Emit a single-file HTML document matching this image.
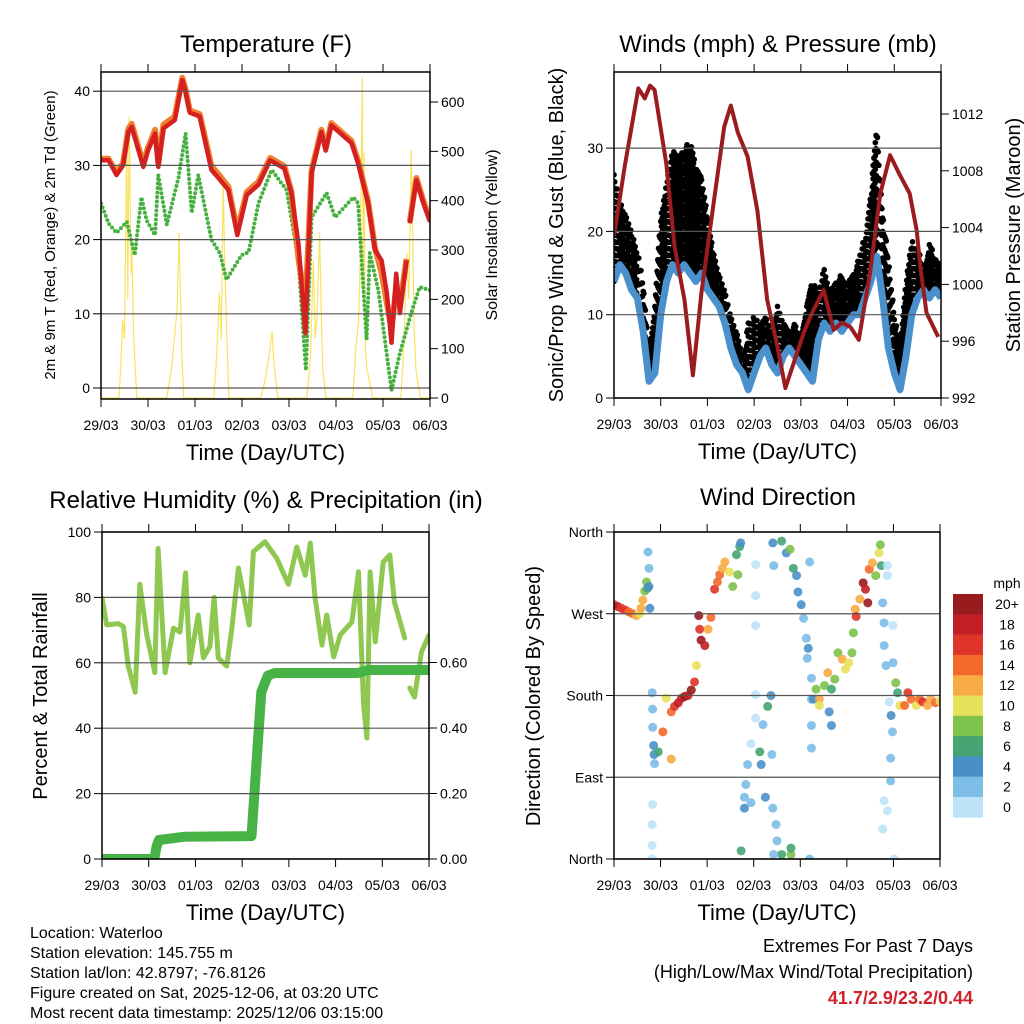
<!DOCTYPE html>
<html><head><meta charset="utf-8"><style>
html,body{margin:0;padding:0;background:#fff}
svg{display:block;font-family:"Liberation Sans",Arial,sans-serif}
</style></head><body>
<svg id="chart" xmlns="http://www.w3.org/2000/svg" width="1024" height="1024" viewBox="0 0 1024 1024">
<rect x="0" y="0" width="1024" height="1024" fill="#fff"/>
</svg>
<script>
// ---------- DATA ----------
const dayLabels = ["29/03","30/03","01/03","02/03","03/03","04/03","05/03","06/03"];
// Temperature (F) red 2m
const tempT = [0,0.16,0.33,0.47,0.58,0.65,0.9,1.0,1.15,1.22,1.33,1.57,1.73,1.79,1.89,2.1,2.35,2.5,2.71,2.9,3.1,3.35,3.6,3.9,4.05,4.2,4.35,4.48,4.69,4.78,4.9,5.33,5.47,5.68,5.83,5.97,6.08,6.18,6.28,6.36,6.5,6.52,6.57,6.71,6.86,7.0];
const tempV = [30.7,30.7,28.7,30,34.5,35.2,29.8,32,34.3,29.8,35,36.1,41.5,40.2,37.1,36.6,29.4,28.3,26.7,20.6,26,27.4,30.7,29.6,26.3,19.5,7.4,29,34.5,32,35.4,33,30.3,24.9,18.6,17.2,12.8,6.1,15.4,10.1,17.2,null,22.2,28,24.9,22.4];
// 9m temperature (orange)
const temp9V = [30.9,30.9,29,30.3,34.9,35.6,30.2,32.4,34.8,30.2,35.5,36.6,41.8,40.5,37.4,36.9,29.9,28.8,27.1,21.2,26.4,27.8,31,29.9,26.5,17.5,11,29.3,34.8,32.3,35.7,33.3,30.6,25.2,18.9,15.5,11.5,8,13.5,11,17.4,null,22.4,28.3,25.2,22.7];
// Dewpoint (green)
const dewT = [0,0.16,0.33,0.55,0.72,0.86,0.97,1.15,1.22,1.4,1.65,1.8,1.93,2.07,2.35,2.53,2.67,2.99,3.14,3.35,3.63,3.95,4.2,4.36,4.48,4.8,4.98,5.37,5.47,5.65,5.72,5.9,6.18,6.36,6.6,6.78,7.0];
const dewV = [24.9,22.2,20.9,22.4,17.9,25.7,22.6,20.6,28.7,22,28.4,34.3,23.6,28.7,20,18.2,14.6,17.9,18.3,24.9,29.4,26.7,17.2,2.4,23,26.3,23,25.7,24.9,6.5,18.2,13.2,-0.3,4.7,10.1,13.6,13.2];
// Solar insolation (W/m2)
const solarT = [0,0.38,0.42,0.46,0.5,0.53,0.55,0.57,0.6,0.62,0.64,0.66,0.69,0.72,0.76,1.4,1.5,1.56,1.62,1.66,1.69,1.72,1.76,2.4,2.47,2.52,2.56,2.6,2.63,2.67,2.72,3.4,3.5,3.58,3.64,3.68,3.76,4.38,4.46,4.52,4.56,4.6,4.65,4.69,4.72,4.78,5.36,5.42,5.48,5.52,5.56,5.58,5.6,5.62,5.65,5.7,5.78,6.38,6.45,6.5,6.55,6.6,6.63,6.66,6.7,6.74,6.8,7.0];
const solarV = [0,0,60,158,120,380,530,200,570,420,253,300,145,80,0,0,60,120,180,335,213,90,0,0,100,213,120,448,280,150,0,0,40,90,134,70,0,0,90,280,120,170,335,160,60,0,0,100,157,300,650,200,497,120,61,40,0,0,120,294,200,503,350,150,60,30,0,0];
// Winds (mph), 3-hourly from 29/03 00 UTC
const windStep = 0.125;
const windV = [14,16,15,13,12,8,2,3,10,14,16,15,16,15,14,15,13,12,11,9,6,4,3,1,3,5,6,4,3,5,6,5,4,3,2,7,9,8,9,8,9,10,10,12,14,17,12,6,3,1,5,10,12,13,12,13,12];
const gustV = [27,24,22,20,18,14,6,12,22,26,30,29,30,31,28,27,22,18,15,13,10,8,5,9,10,9,10,8,11,9,8,9,7,12,14,13,16,13,14,15,14,15,17,20,25,33,22,17,10,7,14,19,18,16,19,17,16];
// Station pressure (mb)
const presT = [0,0.23,0.52,0.66,0.77,0.87,1.12,1.3,1.51,1.69,1.87,2.11,2.36,2.5,2.65,2.86,3.07,3.28,3.5,3.67,4.06,4.24,4.49,4.7,4.88,5.06,5.24,5.48,5.7,5.91,6.12,6.33,6.48,6.56,6.69,6.94];
const presV = [1003.4,1008.3,1013.8,1013.1,1014,1013.7,1008.5,1002.6,998.9,993.6,999.4,1005.2,1011.1,1012.6,1010.7,1009,1005.2,998.9,995.6,992.7,996.6,998,999.6,996.8,997.3,997,996.1,1000.8,1006.4,1009.1,1007.7,1006.4,1003.8,1001.2,998,996.3];
// Relative humidity (%)
const rhT = [0,0.1,0.35,0.46,0.56,0.71,0.81,0.96,1.13,1.2,1.35,1.53,1.67,1.79,1.88,2.06,2.17,2.31,2.4,2.49,2.67,2.78,2.92,3.15,3.24,3.49,3.74,3.99,4.17,4.35,4.46,4.56,4.71,4.81,4.96,5.1,5.35,5.49,5.6,5.67,5.74,5.85,6.02,6.16,6.26,6.48,6.53,6.59,6.69,6.84,7.0];
const rhV = [79.8,71.6,72,71,59,51,84,68.5,57,95,57,70.6,69.4,87.5,60,74.6,61.5,65,80,61.5,59,70.6,89,71.6,94,97,92,84,95.4,86.8,96.6,80,65.4,74.6,61.8,68.5,72.5,87.8,47,37,87.8,66.4,90.8,93,78.6,67.6,null,52.3,49.5,63.3,68.5];
// Total precipitation (in)
const rainT = [0,1.12,1.17,1.22,1.77,3.2,3.41,3.55,3.7,5.48,5.7,7.0];
const rainV = [0,0,0.04,0.058,0.068,0.07,0.51,0.56,0.568,0.568,0.577,0.577];
// Wind direction scatter
const dirT = [0,0.08,0.16,0.24,0.32,0.4,0.48,0.55,0.58,0.62,0.66,0.7,0.72,0.75,0.77,0.73,0.75,
0.82,0.83,0.83,0.85,0.86,0.87,0.83,0.82,0.82,0.82,
0.95,1.05,1.12,1.23,1.23,1.3,1.38,1.45,1.52,1.59,1.66,1.73,1.77,1.84,1.87,1.95,1.82,2.02,2.08,2.16,2.22,2.27,2.33,2.38,2.48,2.55,2.63,2.7,2.66,2.72,
2.73,2.8,2.83,2.87,2.8,2.94,2.94,3.04,3.04,3.04,3.04,3.04,3.13,3.16,3.2,3.25,3.3,3.37,3.39,3.41,3.48,3.5,3.6,3.8,3.8,3.43,
3.41,3.43,3.6,3.7,3.78,3.85,3.92,3.95,4.02,4.07,4.13,4.17,4.15,4.2,4.24,4.24,4.24,4.24,4.2,
4.28,4.34,4.41,4.41,4.52,4.59,4.62,4.67,4.67,4.74,4.81,4.9,4.97,5.04,5.11,5.14,5.18,5.2,5.28,5.35,5.4,5.45,5.48,5.55,5.62,5.69,5.72,5.74,
5.77,5.8,5.8,5.84,5.87,5.87,5.91,5.94,5.94,5.8,5.87,5.77,5.99,5.99,6.02,5.95,5.98,
6.05,6.09,6.14,6.24,6.31,6.38,6.49,6.56,6.63,6.73,6.8,6.9,7.0];
const dirV = [280,278,276,274,272,270,268,270,276,285,295,305,298,300,276,338,320,
183,165,145,125,115,105,60,38,15,0,
118,140,177,162,110,168,172,177,179,180,186,195,213,253,241,235,268,253,266,297,305,313,320,327,316,300,335,344,313,348,
9,68,82,104,56,62,127,155,324,290,257,181,118,104,148,68,168,180,115,56,38,20,5,5,12,5,
348,323,350,337,341,320,312,294,280,265,243,232,221,327,199,176,147,122,0,
176,187,176,169,191,205,162,147,187,198,227,220,209,216,227,249,275,267,286,304,297,282,319,326,312,337,346,323,
282,260,235,213,323,312,173,111,86,64,53,33,257,216,0,158,140,
194,183,169,169,183,176,169,176,173,169,176,172,174];
const dirS = [16,18,16,16,14,14,12,10,12,12,8,8,6,4,4,2,2,
2,2,2,4,4,2,0,0,0,0,
6,14,10,14,12,16,18,18,20,18,20,16,10,16,20,18,20,12,14,16,14,14,12,12,10,8,6,6,8,4,
6,2,2,2,4,2,0,0,0,0,0,0,6,4,2,4,6,4,2,2,2,2,6,8,6,2,
4,2,6,4,8,6,4,4,4,2,2,4,2,2,2,2,2,2,2,
4,8,12,10,8,12,4,4,6,8,8,12,10,10,8,8,12,16,12,20,18,20,14,12,8,10,8,6,
2,2,2,2,0,0,0,2,2,0,0,0,0,2,0,4,2,
8,6,10,14,16,14,10,14,16,12,12,14,10];
const speedLabels = ["0","2","4","6","8","10","12","14","16","18","20+"];
const speedColors = ["#bde3f7","#7dbde8","#4a90c8","#46a572","#7dc24b","#e8e25a","#f8ab45","#f26a2b","#e0342a","#c21f26","#981b1e"];

// ---------- DRAW ----------
const NS = "http://www.w3.org/2000/svg";
const svg = document.getElementById("chart");
function mk(tag, attrs, parent) {
  const e = document.createElementNS(NS, tag);
  for (const k in attrs) e.setAttribute(k, attrs[k]);
  (parent || svg).appendChild(e);
  return e;
}
function txt(s, x, y, size, anchor, parent, extra) {
  const t = mk("text", Object.assign({x: x, y: y, "font-size": size, "text-anchor": anchor || "start", fill: "#000"}, extra || {}), parent);
  t.textContent = s;
  return t;
}
function pathFrom(ts, vs, fx, fy) {
  let d = "", pen = false;
  for (let i = 0; i < ts.length; i++) {
    if (vs[i] === null) { pen = false; continue; }
    d += (pen ? "L" : "M") + fx(ts[i]).toFixed(1) + "," + fy(vs[i]).toFixed(1);
    pen = true;
  }
  return d;
}
function makePanel(name, x0, x1, y0, y1) {
  const g = mk("g", {});
  
  
  const cp = mk("clipPath", {id: name + "-clip"}, g);
  mk("rect", {x: x0, y: y0, width: x1 - x0, height: y1 - y0}, cp);
  const inner = mk("g", {"clip-path": "url(#" + name + "-clip)"}, g);
  
  
  return {g: g, inner: inner, x0: x0, x1: x1, y0: y0, y1: y1, fx: t => x0 + (x1 - x0) * t / 7};
}
function frame(p) {
  const r = mk("rect", {x: p.x0, y: p.y0, width: p.x1 - p.x0, height: p.y1 - p.y0, fill: "none", stroke: "#000", "stroke-width": 1.5}, p.g);
  
  
  const xa = mk("g", {}, p.g);
  
  
  for (let i = 0; i < dayLabels.length; i++) {
    const x = p.fx(i);
    mk("line", {x1: x, x2: x, y1: p.y1, y2: p.y1 + 8, stroke: "#000", "stroke-width": 1}, xa);
    mk("line", {x1: x, x2: x, y1: p.y0, y2: p.y0 - 8, stroke: "#000", "stroke-width": 1}, xa);
    const t = txt(dayLabels[i], x, p.y1 + 31, 14, "middle", xa);
    
    
  }
  const xt = txt("Time (Day/UTC)", (p.x0 + p.x1) / 2, p.y1 + 61, 22, "middle", p.g);
  
  
}
function leftAxis(p, vals, labels, fy, grid, name) {
  const a = mk("g", {}, p.g);
  
  
  for (let i = 0; i < vals.length; i++) {
    const y = fy(vals[i]);
    if (grid) mk("line", {x1: p.x0, x2: p.x1, y1: y, y2: y, stroke: "#555", "stroke-width": 1.2}, a);
    mk("line", {x1: p.x0 - 8, x2: p.x0, y1: y, y2: y, stroke: "#000", "stroke-width": 1}, a);
    const t = txt(labels[i], p.x0 - 11, y + 5, 14, "end", a);
    
    
  }
}
function rightAxis(p, vals, labels, fy, name) {
  const a = mk("g", {}, p.g);
  
  
  for (let i = 0; i < vals.length; i++) {
    const y = fy(vals[i]);
    mk("line", {x1: p.x1, x2: p.x1 + 8, y1: y, y2: y, stroke: "#000", "stroke-width": 1}, a);
    const t = txt(labels[i], p.x1 + 11, y + 5, 14, "start", a);
    
    
  }
}
function vtitle(s, x, y, size, name, parent) {
  const t = txt(s, x, y, size, "middle", parent, {transform: "rotate(-90 " + x + " " + y + ")"});
  
  
}
function title(s, x, y, parent) {
  const t = txt(s, x, y, 24, "middle", parent);
  
  
}

// ---- Panel 1 Temperature ----
const p1 = makePanel("temperature-panel", 101, 430, 72, 399);
const fyT = v => 388 - 7.42 * v;
const fyS = v => 398 - 0.4933 * v;
leftAxis(p1, [0,10,20,30,40], ["0","10","20","30","40"], fyT, true, "temperature-y-axis");
rightAxis(p1, [0,100,200,300,400,500,600], ["0","100","200","300","400","500","600"], fyS, "solar-y-axis");
const sol = mk("path", {d: pathFrom(solarT, solarV, p1.fx, fyS), fill: "none", stroke: "#f7dc3c", "stroke-width": 1.2, "stroke-opacity": 0.8}, p1.inner);


const dew = mk("path", {d: pathFrom(dewT, dewV, p1.fx, fyT), fill: "none", stroke: "#48b040", "stroke-width": 4, "stroke-dasharray": "0 4.5", "stroke-linecap": "round"}, p1.inner);


const t9 = mk("path", {d: pathFrom(tempT, temp9V, p1.fx, fyT), fill: "none", stroke: "#f07f2e", "stroke-width": 6, "stroke-linejoin": "round"}, p1.inner);


const t2 = mk("path", {d: pathFrom(tempT, tempV, p1.fx, fyT), fill: "none", stroke: "#d42020", "stroke-width": 4.5, "stroke-linejoin": "round"}, p1.inner);


frame(p1);
title("Temperature (F)", 266, 52, p1.g);
vtitle("2m & 9m T (Red, Orange) & 2m Td (Green)", 55, 235, 15, "temperature-y-axis-title", p1.g);
vtitle("Solar Insolation (Yellow)", 497, 235, 16, "solar-y-axis-title", p1.g);

// ---- Panel 2 Winds ----
const p2 = makePanel("winds-panel", 614, 941, 72, 398);
const fyW = v => 398 - 8.33 * v;
const fyP = v => 398 - 14.2 * (v - 992);
leftAxis(p2, [0,10,20,30], ["0","10","20","30"], fyW, true, "wind-y-axis");
rightAxis(p2, [992,996,1000,1004,1008,1012], ["992","996","1000","1004","1008","1012"], fyP, "pressure-y-axis");
const gustG = mk("g", {fill: "#000"}, p2.inner);


for (let i = 0; i < windV.length - 1; i++) {
  for (let k = 0; k < 8; k++) {
    const f = k / 8;
    const t = (i + f) * windStep;
    const lo = windV[i] + (windV[i + 1] - windV[i]) * f;
    const hi = gustV[i] + (gustV[i + 1] - gustV[i]) * f;
    for (let v = lo + (k % 3) * 0.5; v <= hi; v += 1.6) {
      const c = mk("circle", {cx: p2.fx(t), cy: fyW(v), r: 2.8}, gustG);
      
      
    }
  }
}
const windT = windV.map((v, i) => i * windStep);
const wl = mk("path", {d: pathFrom(windT, windV, p2.fx, fyW), fill: "none", stroke: "#4a90cd", "stroke-width": 7, "stroke-linejoin": "round"}, p2.inner);


const pl = mk("path", {d: pathFrom(presT, presV, p2.fx, fyP), fill: "none", stroke: "#9b1b1e", "stroke-width": 4, "stroke-linejoin": "round"}, p2.inner);


frame(p2);
title("Winds (mph) & Pressure (mb)", 778, 52, p2.g);
vtitle("Sonic/Prop Wind & Gust (Blue, Black)", 563, 235, 20, "wind-y-axis-title", p2.g);
vtitle("Station Pressure (Maroon)", 1020, 235, 20, "pressure-y-axis-title", p2.g);

// ---- Panel 3 RH & Rain ----
const p3 = makePanel("humidity-panel", 102, 429, 532, 859);
const fyH = v => 859 - 3.27 * v;
const fyR = v => 859 - 327.5 * v;
leftAxis(p3, [0,20,40,60,80,100], ["0","20","40","60","80","100"], fyH, true, "humidity-y-axis");
rightAxis(p3, [0,0.2,0.4,0.6], ["0.00","0.20","0.40","0.60"], fyR, "rain-y-axis");
const rhl = mk("path", {d: pathFrom(rhT, rhV, p3.fx, fyH), fill: "none", stroke: "#8fc850", "stroke-width": 5, "stroke-linejoin": "round", "stroke-linecap": "round"}, p3.inner);


const rl = mk("path", {d: pathFrom(rainT, rainV, p3.fx, fyR), fill: "none", stroke: "#47b347", "stroke-width": 10, "stroke-linejoin": "round", "stroke-linecap": "round"}, p3.inner);


frame(p3);
title("Relative Humidity (%) & Precipitation (in)", 266, 508, p3.g);
vtitle("Percent & Total Rainfall", 47, 696, 20, "humidity-y-axis-title", p3.g);

// ---- Panel 4 Wind direction ----
const p4 = makePanel("wind-direction-panel", 614, 940, 532, 859);
const fyD = v => 859 - 327 * v / 360;
leftAxis(p4, [0,90,180,270,360], ["North","East","South","West","North"], fyD, true, "direction-y-axis");
const dg = mk("g", {}, p4.inner);


for (let i = 0; i < dirT.length; i++) {
  const idx = Math.min(10, Math.floor(dirS[i] / 2));
  const c = mk("circle", {cx: p4.fx(dirT[i]), cy: fyD(dirV[i]), r: 4.5, fill: speedColors[idx], "fill-opacity": 0.9}, dg);
  
  
}
frame(p4);
title("Wind Direction", 778, 505, p4.g);
vtitle("Direction (Colored By Speed)", 540, 696, 20, "direction-y-axis-title", p4.g);

// colorbar
const cb = mk("g", {});


const cbt = txt("mph", 1007, 588, 14, "middle", cb);


for (let i = 0; i < speedColors.length; i++) {
  const j = speedColors.length - 1 - i;
  const y = 594 + i * 20.3;
  const r = mk("rect", {x: 953, y: y, width: 30, height: 20.6, fill: speedColors[j]}, cb);
  
  
  const t = txt(speedLabels[j], 1007, y + 15, 14, "middle", cb);
  
  
}

// footer text
const info = ["Location: Waterloo","Station elevation: 145.755 m","Station lat/lon: 42.8797; -76.8126","Figure created on Sat, 2025-12-06, at 03:20 UTC","Most recent data timestamp: 2025/12/06 03:15:00"];
const ig = mk("g", {});


for (let i = 0; i < info.length; i++) {
  const t = txt(info[i], 30, 938 + i * 20, 16, "start", ig);
  
  
}
const eg = mk("g", {});


const e1 = txt("Extremes For Past 7 Days", 973, 952, 18, "end", eg);


const e2 = txt("(High/Low/Max Wind/Total Precipitation)", 973, 978, 18, "end", eg);


const e3 = txt("41.7/2.9/23.2/0.44", 973, 1004, 18, "end", eg, {fill: "#d0212a", "font-weight": "bold"});


</script>
</body></html>
